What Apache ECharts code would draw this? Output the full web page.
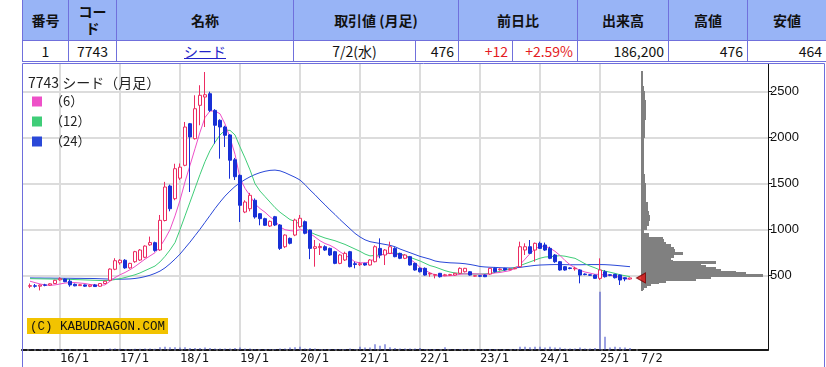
<!DOCTYPE html>
<html>
<head>
<meta charset="utf-8">
<script src="https://cdn.jsdelivr.net/npm/echarts@6/dist/echarts.min.js"></script>
<style>
html,body{margin:0;padding:0;background:#fff;width:826px;height:367px;overflow:hidden;}
#chart{position:absolute;left:0;top:0;width:826px;height:367px;}
#quote{position:absolute;left:22px;top:-1px;border-collapse:collapse;table-layout:fixed;width:804px;z-index:5;background:#fff;
  font-family:"Noto Sans CJK JP","Noto Sans",sans-serif;font-size:14px;color:#111;}
#quote th,#quote td{border:1px solid #7070dc;padding:0 4px;overflow:hidden;white-space:normal;}
#quote th{background:#98b4f6;height:40px;font-weight:bold;text-align:center;line-height:17px;}
#quote td{height:20px;line-height:20px;}
#quote td.c{text-align:center;}
#quote td.r{text-align:right;}
#quote td.red{color:#e41b23;}
#quote a{color:#2323c8;text-decoration:underline;}
</style>
</head>
<body>
<div id="chart"></div>
<table id="quote"></table>
<script>
// ---------------- table data ----------------
const quoteHeader = ['番号', 'コード', '名称', '取引値 (月足)', '前日比', '出来高', '高値', '安値'];
const quoteHeaderSpan = [1, 1, 1, 2, 2, 1, 1, 1];
const quoteRow = ['1', '7743', 'シード', '7/2(水)', '476', '+12', '+2.59%', '186,200', '476', '464'];

// ---------------- chart data ----------------
const startYear = 2015, startMonth = 7;   // first monthly candle: 2015/7, last: 2025/7
const opens = [
  385,390,386,400,398,415,
  455,464,440,406,392,400,384,400,385,415,450,570,
  640,668,585,652,670,700,835,859,780,1100,1475,1337,
  1560,1700,2152,1989,2352,2442,2478,2297,2189,2116,2030,1760,
  1591,1192,1228,1320,1174,1120,1040,1141,1051,815,906,942,
  1033,1087,997,797,805,815,797,761,634,671,761,630,
  620,634,616,652,797,725,743,797,743,689,707,634,
  580,580,518,505,526,500,505,507,526,543,543,495,
  500,507,518,580,565,580,565,575,598,779,815,779,
  852,834,797,725,652,598,585,575,562,518,510,507,
  471,543,510,515,507,478,464
];
const closes = [
  392,386,398,396,412,450,
  468,435,400,390,402,386,398,382,415,440,572,663,
  668,585,634,761,779,822,860,775,1102,1464,1228,1663,
  1680,2116,2008,2315,2461,2467,2297,2135,2116,2026,1755,1576,
  1265,1301,1374,1138,1120,1048,1091,1051,797,942,852,1105,
  1124,961,797,815,818,779,725,634,725,743,598,622,
  630,616,671,815,725,779,815,707,689,725,616,562,
  543,507,526,512,489,510,512,526,580,580,507,500,
  494,489,580,543,572,562,572,582,815,815,743,852,
  797,779,689,652,562,562,578,582,507,512,505,471,
  562,489,505,478,453,464,476
];
const lows = [
  365,370,340,385,392,410,
  446,430,380,385,388,378,375,378,380,410,445,560,
  620,575,575,640,660,690,825,760,770,1090,1200,1320,
  1540,1690,1410,1980,2135,2116,2280,1935,1772,1899,1554,1540,
  1084,1180,1200,1120,1048,1040,1030,1040,780,800,840,930,
  1020,950,680,598,725,770,715,625,625,660,590,580,
  605,608,610,645,689,616,735,700,680,680,610,555,
  535,500,489,471,480,495,498,500,520,535,500,490,
  485,485,510,535,555,555,560,570,590,725,735,652,
  790,770,680,640,555,555,570,555,417,505,498,465,
  453,480,495,470,399,440,462
];
const highs = [
  415,410,405,412,418,455,
  482,470,462,415,410,405,405,410,420,445,580,690,
  680,680,640,770,790,830,925,870,1160,1520,1490,1717,
  1720,2171,2160,2461,2570,2714,2500,2310,2200,2130,2040,1780,
  1600,1320,1400,1340,1180,1130,1100,1150,1060,950,915,1120,
  1160,1100,1000,888,852,830,805,770,735,761,770,652,
  645,640,680,830,906,790,870,810,750,735,715,640,
  590,590,535,520,530,520,520,530,590,585,550,505,
  505,512,585,590,580,585,580,590,870,852,888,860,
  870,860,815,735,660,605,592,598,570,525,515,512,
  689,560,515,520,512,482,478
];
const ma6 = [
  440,425,410,400,395,400,
  410,420,425,425,420,415,405,398,395,400,440,480,
  510,535,565,600,640,680,715,750,815,900,1000,1150,
  1320,1520,1700,1880,2060,2220,2290,2290,2260,2150,2000,1820,
  1560,1450,1370,1280,1230,1190,1140,1100,1030,1000,990,985,
  1000,990,960,920,880,850,830,800,760,725,690,650,
  640,640,650,690,720,740,745,735,725,720,680,640,
  590,560,530,510,500,498,500,505,515,520,522,520,
  518,515,520,530,535,545,555,580,620,680,740,790,
  820,820,800,765,720,665,620,585,560,540,528,515,
  515,508,505,495,480,470,460
];
const ma12 = [
  468,467,466,465,464,463,
  462,461,460,458,456,454,452,450,448,447,450,458,
  468,480,495,510,530,555,580,605,650,710,780,860,
  1000,1150,1300,1450,1600,1740,1860,1950,2030,2080,2080,2030,
  1900,1780,1650,1500,1420,1360,1300,1240,1190,1150,1110,1090,
  1060,1020,975,950,930,910,895,880,860,840,815,790,
  765,735,715,720,725,735,745,745,740,720,700,680,
  660,635,610,595,575,555,540,530,525,520,518,518,
  518,520,525,535,548,562,575,590,610,630,650,670,
  690,703,707,712,718,712,700,689,660,630,605,585,
  562,550,538,525,510,500,489
];
const ma24 = [
  476,475,475,474,474,473,
  473,472,472,471,471,470,470,469,467,465,463,462,
  462,463,465,470,478,490,505,525,550,585,630,680,
  735,800,865,935,1005,1080,1155,1230,1300,1365,1420,1470,
  1510,1545,1575,1600,1620,1635,1645,1648,1640,1620,1595,1570,
  1540,1490,1432,1380,1323,1270,1215,1165,1110,1060,1010,960,
  921,890,870,860,850,840,830,815,790,770,750,730,
  710,695,680,660,650,645,640,638,635,630,622,612,
  600,595,592,590,587,585,584,585,590,598,605,612,
  616,618,620,621,621,620,619,619,619,620,621,621,
  621,620,617,613,608,603,598
];
const volumes = [
  60,60,80,60,60,80,
  80,80,80,60,60,60,60,60,60,60,150,150,
  120,100,100,120,120,150,150,120,300,350,300,300,
  250,300,200,200,200,250,200,150,150,150,150,200,
  250,150,150,100,100,100,100,100,150,150,250,300,
  350,150,200,150,100,100,100,100,100,100,150,100,
  350,250,250,600,450,600,300,200,150,150,150,150,
  200,100,100,100,80,300,80,80,100,100,80,80,
  80,80,100,100,80,80,80,100,350,350,300,350,
  350,250,350,250,250,150,150,150,250,150,150,200,
  6100,1400,250,350,300,250,200
];
// price-by-volume profile: [low price, high price, volume]
const profileLow  = [2650,2560,2500,2400,2300,2200,2100,2000,1900,1800,1700,1600,1500,1400,1300,1200,1150,1100,1050,1000,960,920,890,860,840,810,780,750,730,700,670,650,630,610,590,570,550,530,510,490,470,450,430,410,390,370,350,340];
const profileHigh = [2720,2650,2560,2500,2400,2300,2200,2100,2000,1900,1800,1700,1600,1500,1400,1300,1200,1150,1100,1050,1000,960,920,890,860,840,810,780,750,730,700,670,650,630,610,590,570,550,530,510,490,470,450,430,410,390,370,350];
const profileVol  = [20,20,30,40,50,50,40,40,30,30,30,30,40,50,50,70,80,90,80,60,30,80,220,230,250,300,330,340,420,330,300,320,750,600,650,750,800,950,1050,1220,700,550,250,180,100,60,30,20];
const priceTicks = [500, 1000, 1500, 2000, 2500];
const yearTickLabels = ['16/1','17/1','18/1','19/1','20/1','21/1','22/1','23/1','24/1','25/1'];
const lastDateLabel = '7/2';
const lastPrice = 476;
const chartTitle = '7743 シード（月足）';
const maNames = ['（6）', '（12）', '（24）'];
const copyright = '(C) KABUDRAGON.COM';

// ---------------- build table ----------------
(function buildTable() {
  const t = document.getElementById('quote');
  const colW = [46,48,177,122,43,54,65,91,79,79];
  let html = '<colgroup>' + colW.map(w => '<col style="width:' + w + 'px">').join('') + '</colgroup>';
  html += '<tr>' + quoteHeader.map((h, i) => '<th' + (quoteHeaderSpan[i] > 1 ? ' colspan="' + quoteHeaderSpan[i] + '"' : '') + '>' + h + '</th>').join('') + '</tr>';
  const cls = ['c','c','c','c','r','r red','r red','r','r','r'];
  html += '<tr>' + quoteRow.map((v, i) => '<td class="' + cls[i] + '">' + (i === 2 ? '<a href="#">' + v + '</a>' : v) + '</td>').join('') + '</tr>';
  t.innerHTML = html;
})();

// ---------------- chart ----------------
// x value = months since 2016/1
const monthX = opens.map((_, i) => (startYear - 2016) * 12 + (startMonth - 1) + i);
const candleData = monthX.map((x, i) => [x, opens[i], closes[i], lows[i], highs[i]]);
const lineData = arr => arr.map((v, i) => [monthX[i], v]);
const volData = volumes.map((v, i) => [monthX[i], v]);
const profileData = profileVol.map((v, i) => [profileLow[i], profileHigh[i], v]);
const yearTickVals = yearTickLabels.map(s => { const p = s.split('/'); return (2000 + +p[0] - 2016) * 12 + (+p[1] - 1); });
const yearLabelOf = {};
yearTickVals.forEach((v, i) => { yearLabelOf[v] = yearTickLabels[i]; });

const PLOT_TOP = 64, PLOT_H = 286;
const MAIN_LEFT = 22, MAIN_W = 619, PROF_W = 127;
const X_MIN = -7.6, X_MAX = 116.2;
const Y_MIN = -307.6, Y_MAX = 2801.1;
const GRID_COLOR = '#dcdcdc';

const chart = echarts.init(document.getElementById('chart'), null, { renderer: 'canvas' });
chart.setOption({
  animation: false,
  backgroundColor: '#ffffff',
  grid: [
    { left: MAIN_LEFT, top: PLOT_TOP, width: MAIN_W, height: PLOT_H, containLabel: false },
    { left: MAIN_LEFT + MAIN_W, top: PLOT_TOP, width: PROF_W, height: PLOT_H, containLabel: false }
  ],
  xAxis: [
    {
      type: 'value', gridIndex: 0, min: X_MIN, max: X_MAX,
      axisLine: { show: true, onZero: false, lineStyle: { color: '#1a1a1a', width: 2, type: [5, 2] } },
      axisTick: { show: false, customValues: yearTickVals },
      axisLabel: {
        customValues: yearTickVals, formatter: v => yearLabelOf[v] || '',
        align: 'left', margin: 3, color: '#111', fontSize: 12, fontFamily: 'DejaVu Sans Mono'
      },
      splitLine: { show: true, lineStyle: { color: GRID_COLOR, width: 2 } }
    },
    {
      type: 'value', gridIndex: 1, min: 0, max: 1270,
      axisLine: { show: true, onZero: false, lineStyle: { color: '#1a1a1a', width: 2 } },
      axisTick: { show: false, customValues: [0] },
      axisLabel: {
        customValues: [0], formatter: () => lastDateLabel,
        align: 'left', margin: 3, color: '#111', fontSize: 12, fontFamily: 'DejaVu Sans Mono'
      },
      splitLine: { show: false }
    }
  ],
  yAxis: [
    {
      type: 'value', gridIndex: 0, min: Y_MIN, max: Y_MAX,
      axisLine: { show: false, onZero: false }, axisTick: { show: false, customValues: priceTicks },
      axisLabel: { show: false, customValues: priceTicks },
      splitLine: { show: true, lineStyle: { color: GRID_COLOR, width: 2 } }
    },
    {
      type: 'value', gridIndex: 0, min: 0, max: 30000, show: false,
      axisLine: { onZero: false }, splitLine: { show: false }
    },
    {
      type: 'value', gridIndex: 1, min: Y_MIN, max: Y_MAX, position: 'right',
      axisLine: { show: true, onZero: false, lineStyle: { color: '#111', width: 1 } },
      axisTick: { show: true, inside: false, length: 4, customValues: priceTicks, lineStyle: { color: '#111' } },
      axisLabel: { customValues: priceTicks, formatter: v => String(v), margin: 2, color: '#111', fontSize: 13, fontFamily: 'Liberation Sans' },
      splitLine: { show: true, lineStyle: { color: GRID_COLOR, width: 2 } }
    }
  ],
  legend: {
    data: maNames, orient: 'vertical', left: 27, top: 90, icon: 'rect',
    itemWidth: 10, itemHeight: 10, itemGap: 7, selectedMode: false,
    textStyle: { fontSize: 13, color: '#222', fontFamily: 'Noto Sans CJK JP', padding: [0, 0, 0, 3] }
  },
  graphic: [
    { type: 'text', left: 28, top: 76, z: 20,
      style: { text: chartTitle, font: '14px "Noto Sans CJK JP"', fill: '#222' } },
    { type: 'text', left: 27, top: 318, z: 20,
      style: { text: copyright, font: '12.5px "Liberation Mono"', fill: '#111',
               backgroundColor: '#f2c300', padding: [2, 3, 1, 3] } },
    { type: 'rect', z: 30, silent: true,
      shape: { x: 22.5, y: 63.5, width: 802, height: 330 },
      style: { fill: 'none', stroke: '#6e6edc', lineWidth: 1 } }
  ],
  series: [
    {
      name: 'volume', type: 'bar', xAxisIndex: 0, yAxisIndex: 1, data: volData,
      barWidth: 1, itemStyle: { color: '#3a46c8' }, z: 1, silent: true
    },
    {
      name: maNames[2], type: 'line', xAxisIndex: 0, yAxisIndex: 0, data: lineData(ma24),
      showSymbol: false, symbol: 'none', lineStyle: { color: '#2a48d8', width: 1 }, itemStyle: { color: '#2a48d8' }, z: 2
    },
    {
      name: maNames[1], type: 'line', xAxisIndex: 0, yAxisIndex: 0, data: lineData(ma12),
      showSymbol: false, symbol: 'none', lineStyle: { color: '#3fcd78', width: 1 }, itemStyle: { color: '#3fcd78' }, z: 2
    },
    {
      name: maNames[0], type: 'line', xAxisIndex: 0, yAxisIndex: 0, data: lineData(ma6),
      showSymbol: false, symbol: 'none', lineStyle: { color: '#ee50c8', width: 1 }, itemStyle: { color: '#ee50c8' }, z: 2
    },
    {
      name: 'candle', type: 'candlestick', xAxisIndex: 0, yAxisIndex: 0,
      dimensions: ['t', 'open', 'close', 'lowest', 'highest'],
      encode: { x: 0, y: [1, 2, 3, 4] },
      data: candleData, barWidth: 4, z: 3,
      itemStyle: { color: '#ffffff', color0: '#1830d6', borderColor: '#ec2c62', borderColor0: '#1830d6', borderWidth: 1 }
    },
    {
      name: 'profile', type: 'custom', xAxisIndex: 1, yAxisIndex: 2,
      dimensions: ['lo', 'hi', 'vol'], encode: { x: 2, y: [0, 1] },
      data: profileData, z: 2, silent: true,
      renderItem: (params, api) => {
        const p1 = api.coord([0, api.value(1)]);
        const p2 = api.coord([api.value(2), api.value(0)]);
        const y1 = Math.floor(p1[1]), y2 = Math.ceil(p2[1]);
        return { type: 'rect', shape: { x: Math.round(p1[0]), y: y1, width: Math.max(1, Math.round(p2[0] - p1[0])), height: y2 - y1 },
                 style: { fill: '#808080' } };
      }
    },
    {
      name: 'last', type: 'scatter', xAxisIndex: 1, yAxisIndex: 2, data: [[0, lastPrice]],
      symbol: 'triangle', symbolRotate: 90, symbolSize: [10, 9], z: 10, silent: true,
      itemStyle: { color: '#e01212', borderColor: '#700', borderWidth: 1 }
    }
  ]
});
</script>
</body>
</html>
